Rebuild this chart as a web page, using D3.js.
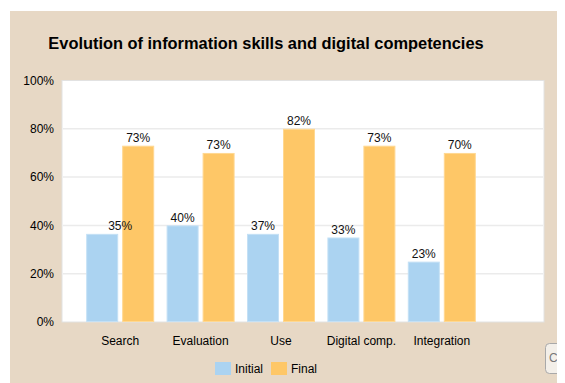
<!DOCTYPE html>
<html>
<head>
<meta charset="utf-8">
<script src="https://cdn.jsdelivr.net/npm/d3@7"></script>
<style>
  body { margin: 0; background: #fff; }
  text { font-family: "Liberation Sans", Arial, sans-serif; }
</style>
</head>
<body>
<svg id="chart"></svg>
<script>
// chart values
let categories = ["Search", "Evaluation", "Use", "Digital comp.", "Integration"];
let series = ["Initial", "Final"];
let initialValues = [36.5, 40, 36.5, 35, 25];
let finalValues = [73, 70, 80, 73, 70];
// the labels printed above the bars (they don't always match the bar heights)
let initialLabels = ["35%", "40%", "37%", "33%", "23%"];
let finalLabels = ["73%", "73%", "82%", "73%", "70%"];
let yTicks = [0, 20, 40, 60, 80, 100];

let colors = {"Initial": "#abd3f1", "Final": "#fec767"};

let width = 565, height = 383;
let plot = {left: 62, right: 544, top: 80.5, bottom: 322};

let svg = d3.select("#chart").attr("width", width).attr("height", height);

// beige panel
svg.append("rect").attr("x", 10).attr("y", 11).attr("width", 547).attr("height", 380)
  .attr("fill", "#e7d8c5");

svg.append("text").attr("x", 266).attr("y", 49)
  .attr("text-anchor", "middle").attr("font-weight", "bold").attr("font-size", 16.4)
  .attr("fill", "#000").text("Evolution of information skills and digital competencies");

// plot area
svg.append("rect").attr("x", plot.left).attr("y", plot.top)
  .attr("width", plot.right - plot.left).attr("height", plot.bottom - plot.top)
  .attr("fill", "#fff").attr("stroke", "#e2e2e2");

let y = d3.scaleLinear().domain([0, 100]).range([plot.bottom, plot.top]);
let x = d3.scaleBand().domain(categories).range([80, 482]);
let xSub = d3.scaleBand().domain(series).range([6.2, x.bandwidth() - 6.2]).paddingInner(1 / 9);

// grid
svg.append("g").selectAll("line").data(yTicks.slice(1, -1)).enter().append("line")
  .attr("x1", plot.left + 1).attr("x2", plot.right - 1)
  .attr("y1", d => y(d)).attr("y2", d => y(d))
  .attr("stroke", "#ebebeb").attr("stroke-width", 1.5);

// y axis labels
let yAxis = d3.axisLeft(y).tickValues(yTicks).tickFormat(d => d + "%").tickSize(0).tickPadding(8);
let yg = svg.append("g").attr("transform", "translate(" + plot.left + ",0)").call(yAxis);
yg.select(".domain").remove();
yg.selectAll("text").attr("font-size", 12).attr("fill", "#000")
  .attr("font-family", "Liberation Sans, Arial, sans-serif");

// x axis labels
let xAxis = d3.axisBottom(x).tickSize(0).tickPadding(0);
let xg = svg.append("g").attr("transform", "translate(0," + (plot.bottom + 14) + ")").call(xAxis);
xg.select(".domain").remove();
xg.selectAll("text").attr("font-size", 12).attr("fill", "#000")
  .attr("font-family", "Liberation Sans, Arial, sans-serif");

// bars
let rows = categories.map((c, i) => ({
  cat: c,
  vals: [
    {s: "Initial", v: initialValues[i], label: initialLabels[i]},
    {s: "Final", v: finalValues[i], label: finalLabels[i]}
  ]
}));

let groups = svg.append("g").selectAll("g").data(rows).enter().append("g")
  .attr("transform", d => "translate(" + x(d.cat) + ",0)");

groups.selectAll("rect").data(d => d.vals).enter().append("rect")
  .attr("x", d => xSub(d.s) + 0.5)
  .attr("y", d => y(d.v) + 0.5)
  .attr("width", xSub.bandwidth() - 1)
  .attr("height", d => y(0) - y(d.v) - 1)
  .attr("fill", d => colors[d.s])
  .attr("stroke", d => d.s == "Initial" ? "#c4e0f5" : "#ffd891")
  .attr("stroke-width", 1);

// value labels; the first one sits off its bar in the original
groups.selectAll("text").data(d => d.vals).enter().append("text")
  .attr("x", function(d){
    let g = d3.select(this.parentNode).datum();
    let nudge = (g.cat == "Search" && d.s == "Initial") ? 18 : 0;
    return xSub(d.s) + xSub.bandwidth() / 2 + nudge;
  })
  .attr("y", d => y(d.v) - 3.5)
  .attr("text-anchor", "middle").attr("font-size", 12).attr("fill", "#111")
  .text(d => d.label);

// legend
let legend = svg.append("g").attr("transform", "translate(215,362)");
let items = legend.selectAll("g").data(series).enter().append("g")
  .attr("transform", (d, i) => "translate(" + (i * 56) + ",0)");
items.append("rect").attr("width", 16).attr("height", 13).attr("fill", d => colors[d]);
items.append("text").attr("x", 20).attr("y", 11).attr("font-size", 12).attr("fill", "#000")
  .text(d => d);

// cut-off button in the corner
svg.append("clipPath").attr("id", "panelClip").append("rect")
  .attr("x", 10).attr("y", 11).attr("width", 547).attr("height", 380);
let btn = svg.append("g").attr("clip-path", "url(#panelClip)");
btn.append("rect").attr("x", 545.5).attr("y", 343.5).attr("width", 30).attr("height", 30)
  .attr("rx", 4).attr("fill", "#f3efe9").attr("stroke", "#a9a9a9");
btn.append("text").attr("x", 549).attr("y", 362).attr("font-size", 12).attr("fill", "#777").text("C");
</script>
</body>
</html>
